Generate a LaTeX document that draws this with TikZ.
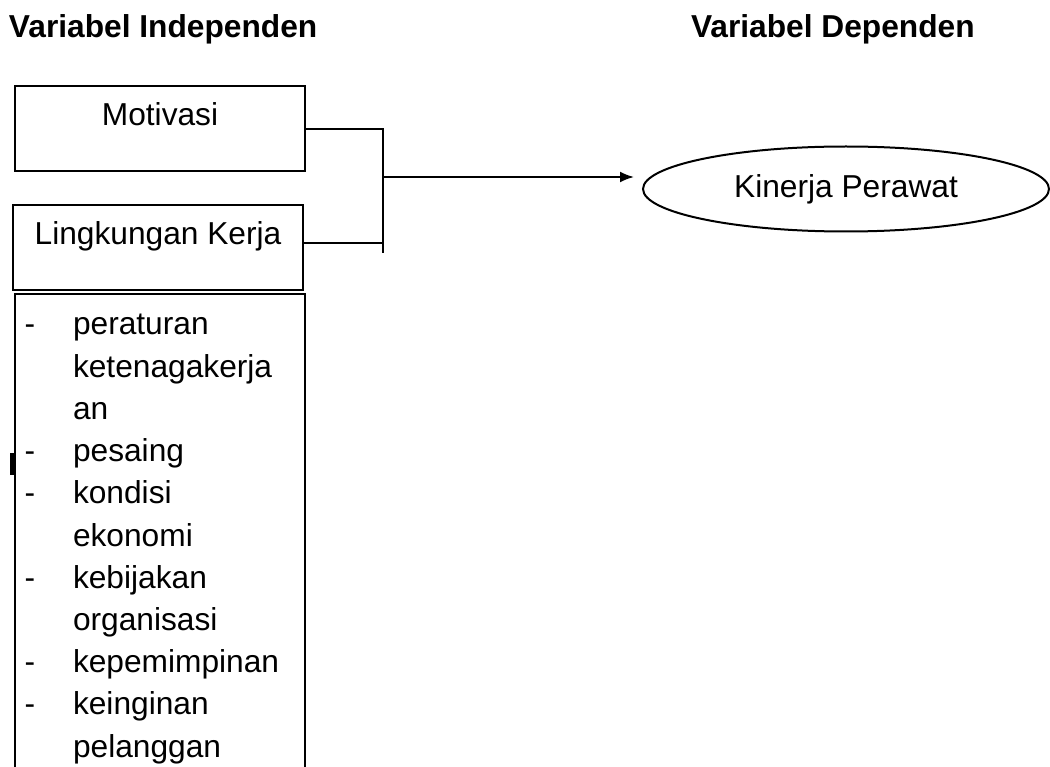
\documentclass[tikz,border=0pt]{standalone}
\usepackage{fontspec}
\setmainfont{Liberation Sans}
\usetikzlibrary{shapes.geometric,arrows.meta}
\begin{document}
\begin{tikzpicture}[x=1pt,y=-1pt,line width=2pt]
\tikzset{ >={Latex[length=14pt,width=11pt]},
  txt/.style={font=\fontsize{31.7}{42}\selectfont, inner sep=0pt, outer sep=0pt},
  hdr/.style={txt, font=\fontsize{31.7}{42}\selectfont\bfseries, anchor=base west},
  box/.style={draw, rectangle, inner sep=0pt, outer sep=0pt},
}
\useasboundingbox (0,0) rectangle (1050,767);

%\draw [lightgray, dashed](0,0) grid [step=50] (1050,767);

\node [hdr] (HI) at (9,38) {Variabel Independen};
\node [hdr] (HD) at (691,38) {Variabel Dependen};

\node [box, minimum width=290, minimum height=85] (M) at (160,129) {};
\node [box, minimum width=290, minimum height=85] (L) at (158,248) {};
\node [txt, anchor=base] (Mt) at (160,126) {Motivasi};
\node [txt, anchor=base] (Lt) at (158,245) {Lingkungan Kerja};

% list box, open at the bottom
\draw (15,790) -- (15,294) -- (305,294) -- (305,790);
\fill (10,453) rectangle (14,475);

\foreach \d/\w [count=\i] in {-/peraturan, {}/ketenagakerja, {}/an, -/pesaing,
    -/kondisi, {}/ekonomi, -/kebijakan, {}/organisasi, -/kepemimpinan,
    -/keinginan, {}/pelanggan}
{
  \node [txt, anchor=base] (D\i) at (30,{335+42.2*(\i-1)}) {\d};
  \node [txt, anchor=base west] (W\i) at (73,{335+42.2*(\i-1)}) {\w};
}

\node [draw, ellipse, txt, minimum width=406, minimum height=85] (K) at (846,189) {Kinerja Perawat};

\coordinate (Mo) at (305,129);
\coordinate (Lo) at (303,243);
\coordinate (JT) at (383,129);
\coordinate (JL) at (383,243);
\coordinate (JB) at (383,253);
\coordinate (JM) at (383,177);
\coordinate (A)  at (634,177);

\draw (Mo) -- (JT) -- (JB);
\draw (Lo) -- (JL);
\draw [->] (JM) -- (A);

\end{tikzpicture}
\end{document}
